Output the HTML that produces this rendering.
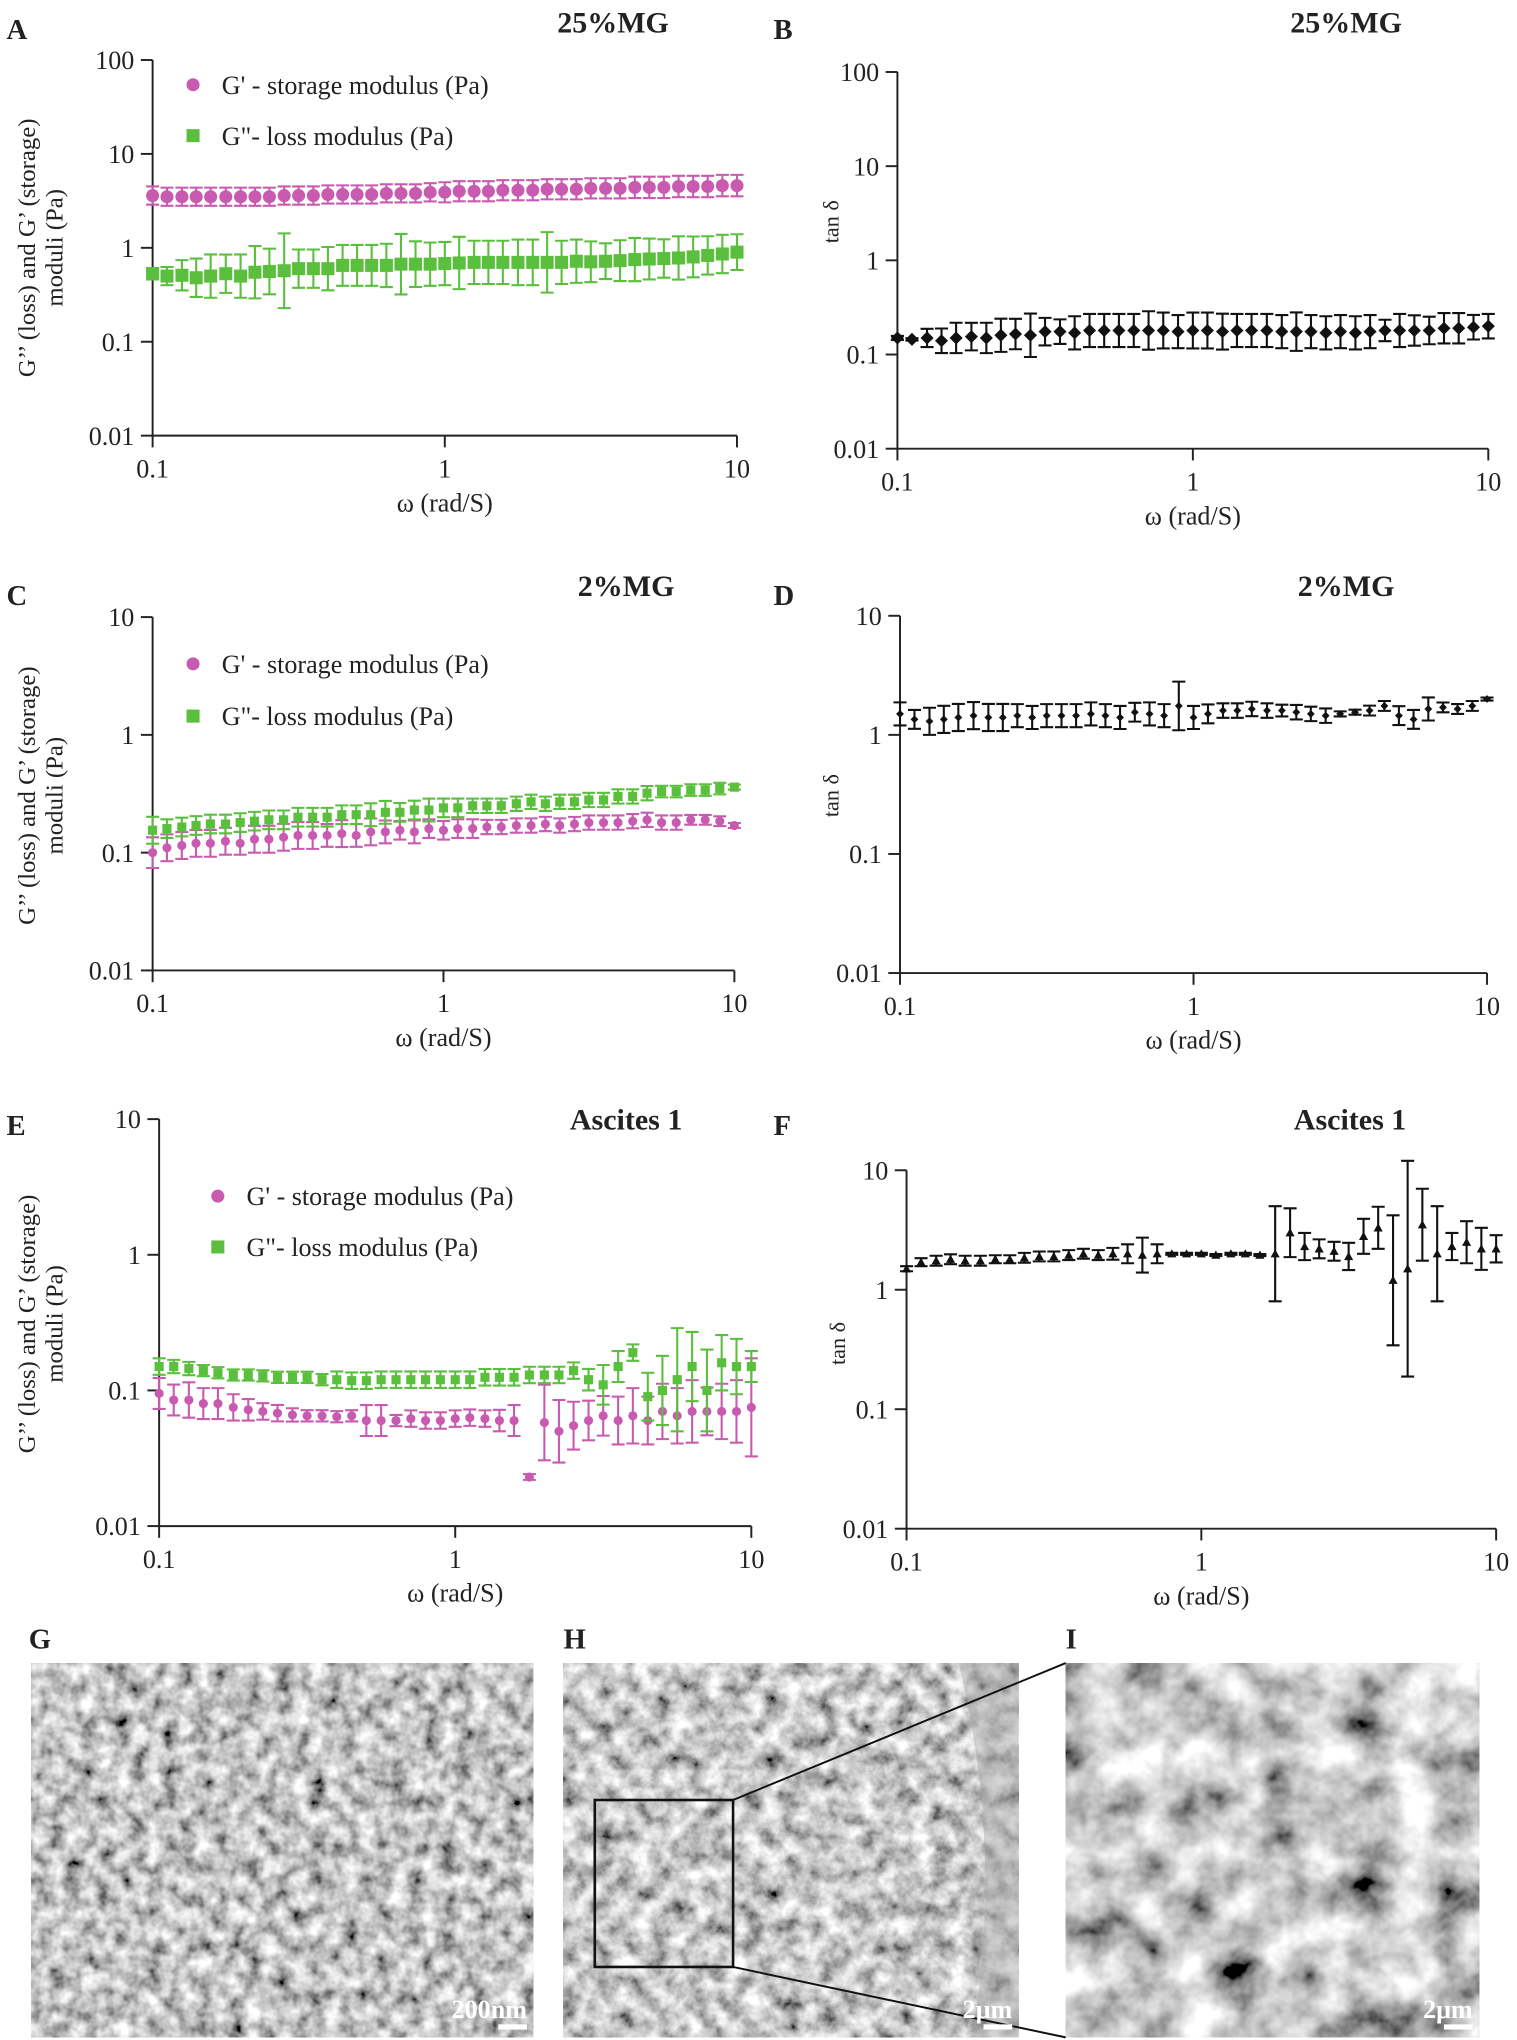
<!DOCTYPE html>
<html><head><meta charset="utf-8"><style>
html,body{margin:0;padding:0;background:#fff}
svg{display:block}
text{font-family:"Liberation Serif",serif;fill:#222}
</style></head><body>
<svg id="fig" width="1517" height="2040" viewBox="0 0 1163 1564" preserveAspectRatio="none" xmlns="http://www.w3.org/2000/svg">
<defs>
<filter id="semG" x="0" y="0" width="1" height="1"><feTurbulence type="fractalNoise" baseFrequency="0.08" numOctaves="3" seed="3"/><feColorMatrix type="matrix" values="1.5 0 0 0 -0.2  1.5 0 0 0 -0.2  1.5 0 0 0 -0.2  0 0 0 0 1"/></filter>
<filter id="semH" x="0" y="0" width="1" height="1"><feTurbulence type="fractalNoise" baseFrequency="0.07" numOctaves="4" seed="7"/><feColorMatrix type="matrix" values="1.5 0 0 0 -0.17  1.5 0 0 0 -0.17  1.5 0 0 0 -0.17  0 0 0 0 1"/></filter>
<filter id="semI" x="0" y="0" width="1" height="1"><feTurbulence type="fractalNoise" baseFrequency="0.03" numOctaves="4" seed="11"/><feColorMatrix type="matrix" values="1.6 0 0 0 -0.22  1.6 0 0 0 -0.22  1.6 0 0 0 -0.22  0 0 0 0 1"/></filter>
</defs>
</svg>
<script>
// ---- data ----
const omega = [0.1,0.112,0.126,0.141,0.158,0.178,0.2,0.224,0.251,0.282,0.316,0.355,0.398,0.447,0.501,0.562,0.631,0.708,0.794,0.891,1,1.12,1.26,1.41,1.58,1.78,2,2.24,2.51,2.82,3.16,3.55,3.98,4.47,5.01,5.62,6.31,7.08,7.94,8.91,10];
const xTicks = ["0.1","1","10"];
const A_storage = [3.6,3.5,3.5,3.5,3.5,3.5,3.5,3.5,3.5,3.6,3.6,3.6,3.7,3.7,3.7,3.7,3.8,3.8,3.8,3.9,3.9,4.0,4.0,4.0,4.1,4.1,4.1,4.2,4.2,4.2,4.3,4.3,4.3,4.4,4.4,4.4,4.5,4.5,4.5,4.6,4.6];
const A_storageErr = [1.25,1.25,1.25,1.25,1.25,1.25,1.25,1.25,1.25,1.25,1.25,1.25,1.25,1.25,1.25,1.25,1.25,1.25,1.25,1.25,1.28,1.28,1.28,1.28,1.28,1.28,1.28,1.28,1.28,1.28,1.28,1.28,1.28,1.3,1.3,1.3,1.3,1.3,1.3,1.3,1.3];
const A_loss = [0.53,0.5,0.51,0.48,0.5,0.53,0.5,0.55,0.56,0.57,0.6,0.6,0.6,0.65,0.65,0.65,0.65,0.67,0.67,0.67,0.68,0.69,0.7,0.7,0.7,0.7,0.7,0.7,0.7,0.72,0.71,0.72,0.73,0.75,0.76,0.77,0.78,0.8,0.83,0.86,0.9];
const A_lossErr = [1.15,1.25,1.45,1.6,1.7,1.6,1.7,1.9,1.75,2.5,1.6,1.6,1.7,1.65,1.65,1.65,1.7,2.1,1.75,1.7,1.7,1.9,1.7,1.7,1.7,1.75,1.75,2.1,1.7,1.7,1.65,1.55,1.65,1.7,1.65,1.6,1.7,1.65,1.6,1.6,1.55];
const B_tan = [0.15,0.145,0.15,0.14,0.15,0.155,0.15,0.16,0.165,0.16,0.175,0.175,0.17,0.18,0.18,0.18,0.18,0.18,0.18,0.175,0.18,0.18,0.175,0.18,0.18,0.18,0.175,0.175,0.175,0.17,0.175,0.17,0.175,0.18,0.18,0.18,0.18,0.19,0.19,0.195,0.2];
const B_tanErr = [1.05,1.03,1.25,1.35,1.45,1.4,1.45,1.5,1.45,1.7,1.4,1.35,1.5,1.5,1.5,1.5,1.5,1.6,1.55,1.5,1.55,1.55,1.55,1.5,1.5,1.5,1.5,1.6,1.5,1.5,1.5,1.5,1.5,1.3,1.5,1.45,1.4,1.45,1.45,1.35,1.35];
const C_storage = [0.1,0.11,0.115,0.12,0.12,0.125,0.12,0.13,0.13,0.135,0.14,0.14,0.14,0.145,0.14,0.15,0.15,0.155,0.15,0.16,0.155,0.16,0.16,0.165,0.165,0.17,0.17,0.175,0.17,0.175,0.18,0.18,0.18,0.185,0.19,0.18,0.18,0.19,0.19,0.185,0.17];
const C_storageErr = [1.35,1.3,1.3,1.3,1.3,1.3,1.25,1.3,1.3,1.3,1.3,1.3,1.25,1.3,1.25,1.3,1.25,1.2,1.25,1.2,1.2,1.2,1.2,1.15,1.15,1.15,1.15,1.15,1.15,1.15,1.15,1.15,1.15,1.15,1.15,1.15,1.15,1.1,1.1,1.1,1.05];
const C_loss = [0.155,0.16,0.165,0.17,0.175,0.175,0.18,0.185,0.19,0.19,0.2,0.2,0.2,0.21,0.21,0.21,0.22,0.22,0.23,0.23,0.24,0.24,0.25,0.25,0.25,0.26,0.27,0.26,0.27,0.27,0.28,0.28,0.3,0.3,0.32,0.33,0.33,0.34,0.34,0.35,0.36];
const C_lossErr = [1.3,1.2,1.2,1.2,1.2,1.2,1.2,1.2,1.2,1.2,1.2,1.2,1.2,1.2,1.2,1.25,1.25,1.2,1.2,1.25,1.2,1.2,1.15,1.15,1.15,1.15,1.15,1.15,1.15,1.15,1.15,1.15,1.15,1.15,1.15,1.12,1.12,1.12,1.12,1.12,1.05];
const D_tan = [1.5,1.35,1.3,1.35,1.4,1.45,1.4,1.4,1.45,1.4,1.45,1.45,1.45,1.5,1.45,1.4,1.55,1.5,1.45,1.75,1.4,1.5,1.6,1.6,1.65,1.6,1.6,1.55,1.5,1.45,1.5,1.55,1.6,1.75,1.45,1.35,1.65,1.7,1.65,1.75,2.0];
const D_tanErr = [1.25,1.2,1.3,1.3,1.3,1.3,1.3,1.3,1.25,1.25,1.25,1.25,1.25,1.25,1.25,1.25,1.2,1.25,1.25,1.6,1.25,1.2,1.15,1.15,1.15,1.15,1.12,1.15,1.15,1.15,1.05,1.05,1.1,1.1,1.2,1.2,1.25,1.1,1.1,1.1,1.03];
const E_storage = [0.095,0.085,0.085,0.08,0.08,0.075,0.072,0.07,0.068,0.066,0.065,0.065,0.064,0.065,0.06,0.06,0.06,0.062,0.06,0.06,0.062,0.063,0.062,0.06,0.06,0.023,0.058,0.05,0.055,0.06,0.065,0.06,0.065,0.06,0.07,0.065,0.07,0.07,0.07,0.07,0.075];
const E_storageErr = [1.3,1.3,1.35,1.3,1.3,1.25,1.2,1.15,1.15,1.12,1.1,1.1,1.1,1.1,1.3,1.3,1.1,1.15,1.15,1.15,1.15,1.15,1.15,1.2,1.3,1.05,1.9,1.7,1.5,1.4,1.4,1.5,1.6,1.5,1.6,1.6,1.7,1.5,1.6,1.7,2.3];
const E_loss = [0.15,0.15,0.145,0.14,0.135,0.13,0.13,0.128,0.125,0.125,0.125,0.12,0.12,0.118,0.118,0.12,0.12,0.12,0.12,0.12,0.12,0.12,0.125,0.125,0.125,0.13,0.13,0.13,0.14,0.12,0.11,0.15,0.19,0.09,0.10,0.12,0.15,0.1,0.16,0.15,0.15];
const E_lossErr = [1.15,1.12,1.12,1.1,1.1,1.1,1.1,1.1,1.1,1.1,1.1,1.1,1.15,1.15,1.15,1.15,1.15,1.15,1.15,1.15,1.15,1.15,1.15,1.15,1.15,1.15,1.15,1.15,1.15,1.2,1.4,1.3,1.15,1.5,1.8,2.4,1.8,2.0,1.6,1.6,1.3];
const F_tan = [1.5,1.7,1.75,1.8,1.75,1.75,1.8,1.8,1.85,1.9,1.9,1.95,2.0,1.95,2.0,2.0,1.95,2.0,2.0,2.0,2.0,1.95,2.0,2.0,1.95,2.0,3.0,2.3,2.2,2.1,1.9,2.8,3.3,1.2,1.5,3.5,2.0,2.3,2.5,2.2,2.2];
const F_tanErr = [1.05,1.08,1.1,1.1,1.1,1.1,1.08,1.08,1.1,1.1,1.1,1.1,1.1,1.1,1.12,1.2,1.4,1.2,1.02,1.02,1.02,1.02,1.02,1.02,1.02,2.5,1.6,1.3,1.2,1.2,1.3,1.4,1.5,3.5,8,2,2.5,1.3,1.5,1.5,1.3];

// ---- drawing ----
const NS = "http://www.w3.org/2000/svg";
const svg = document.getElementById('fig');
function el(tag, attrs, parent, txt){
  const e = document.createElementNS(NS, tag);
  for (const k in attrs) e.setAttribute(k, attrs[k]);
  if (txt !== undefined) e.textContent = txt;
  (parent || svg).appendChild(e);
  return e;
}
function makeAxes(cfg){
  const g = el('g', {});
  
  
  const xs = v => cfg.x0 + (Math.log10(v) + 1) * cfg.dx;
  const ys = v => cfg.yBot - (Math.log10(v) - cfg.yMinExp) * cfg.dy;
  const top = cfg.yBot - (cfg.yTicks.length - 1) * cfg.dy;
  const ax = el('path', {d:`M${cfg.x0} ${top}V${cfg.yBot}H${cfg.x0 + 2*cfg.dx}`, stroke:'#222', 'stroke-width':1.5, fill:'none'}, g);
  
  
  cfg.yTicks.forEach((t, i) => {
    const y = cfg.yBot - i * cfg.dy;
    el('line', {x1:cfg.x0-9, x2:cfg.x0, y1:y, y2:y, stroke:'#222', 'stroke-width':1.5}, g);
    const tl = el('text', {x:cfg.x0-14, y:y+7, 'text-anchor':'end', 'font-size':20}, g, t);
    
    
  });
  xTicks.forEach((t, i) => {
    const x = cfg.x0 + i * cfg.dx;
    el('line', {x1:x, x2:x, y1:cfg.yBot, y2:cfg.yBot+9, stroke:'#222', 'stroke-width':1.5}, g);
    const tl = el('text', {x:x, y:cfg.yBot+32, 'text-anchor':'middle', 'font-size':20}, g, t);
    
    
  });
  const xl = el('text', {x:cfg.x0+cfg.dx, y:cfg.yBot+58, 'text-anchor':'middle', 'font-size':20}, g, 'ω (rad/S)');
  
  
  return {g, xs, ys};
}
function series(ax, vals, errs, color, shape, size, name){
  const g = el('g', {}, ax.g);
  
  
  vals.forEach((v, i) => {
    const x = ax.xs(omega[i]);
    const y = ax.ys(v), yh = ax.ys(v*errs[i]), yl = ax.ys(v/errs[i]);
    el('path', {d:`M${x} ${yh}V${yl}M${x-5} ${yh}H${x+5}M${x-5} ${yl}H${x+5}`, stroke:color, 'stroke-width':1.6, fill:'none'}, g);
    let m;
    if (shape === 'circle') m = el('circle', {cx:x, cy:y, r:size, fill:color}, g);
    else if (shape === 'square') m = el('rect', {x:x-size, y:y-size, width:2*size, height:2*size, fill:color}, g);
    else if (shape === 'diamond') m = el('path', {d:`M${x} ${y-size}L${x+size} ${y}L${x} ${y+size}L${x-size} ${y}Z`, fill:color}, g);
    else m = el('path', {d:`M${x} ${y-size}L${x+size} ${y+size*0.8}L${x-size} ${y+size*0.8}Z`, fill:color}, g);
    
    
  });
}
function label(x, y, txt, size, bold, name, anchor){
  const t = el('text', {x:x, y:y, 'font-size':size, 'font-weight':bold?'bold':'normal', 'text-anchor':anchor||'start'}, svg, txt);
  
  
  return t;
}
function ylab2(x, y){
  const t = el('text', {transform:`translate(${x},${y}) rotate(-90)`, 'text-anchor':'middle', 'font-size':19}, svg);
  
  
  el('tspan', {x:0, y:0}, t, 'G’’ (loss) and G’ (storage)');
  el('tspan', {x:0, y:21}, t, 'moduli (Pa)');
}
function ylabTan(x, y){
  const t = el('text', {transform:`translate(${x},${y}) rotate(-90)`, 'text-anchor':'middle', 'font-size':17}, svg, 'tan δ');
  
  
}
function legend(x, y1, y2, r, fs){
  const c = el('circle', {cx:x, cy:y1, r:r, fill:'#c85bb0'});
  
  
  label(x+22, y1+7, "G' - storage modulus (Pa)", fs, false, 'legend-storage-label');
  const s = el('rect', {x:x-r, y:y2-r, width:2*r, height:2*r, fill:'#5abf3c'});
  
  
  label(x+22, y2+7, 'G"- loss modulus (Pa)', fs, false, 'legend-loss-label');
}
const PINK = '#c85bb0', GREEN = '#5abf3c', BLACK = '#111';

// Panel A
label(5, 30, 'A', 22, true, 'panel-label-a');
label(470, 25, '25%MG', 23, true, 'panel-a-title', 'middle');
const aA = makeAxes({name:'chart-a', x0:117, dx:224, yBot:334, dy:72, yMinExp:-2, yTicks:['0.01','0.1','1','10','100']});
series(aA, A_storage, A_storageErr, PINK, 'circle', 5, 'series-a-storage');
series(aA, A_loss, A_lossErr, GREEN, 'square', 5, 'series-a-loss');
legend(148, 65, 104, 5, 20); ylab2(27, 190);

// Panel B
label(593, 30, 'B', 22, true, 'panel-label-b');
label(1032, 25, '25%MG', 23, true, 'panel-b-title', 'middle');
const aB = makeAxes({name:'chart-b', x0:688, dx:226.5, yBot:344, dy:72.2, yMinExp:-2, yTicks:['0.01','0.1','1','10','100']});
series(aB, B_tan, B_tanErr, BLACK, 'diamond', 5, 'series-b-tan-delta');
ylabTan(643, 170);

// Panel C
label(5, 464, 'C', 22, true, 'panel-label-c');
label(480, 457, '2%MG', 23, true, 'panel-c-title', 'middle');
const aC = makeAxes({name:'chart-c', x0:117, dx:223, yBot:744, dy:90.3, yMinExp:-2, yTicks:['0.01','0.1','1','10']});
series(aC, C_storage, C_storageErr, PINK, 'circle', 3.5, 'series-c-storage');
series(aC, C_loss, C_lossErr, GREEN, 'square', 3.5, 'series-c-loss');
legend(148, 509, 549, 5, 20); ylab2(27, 610);

// Panel D
label(593, 464, 'D', 22, true, 'panel-label-d');
label(1032, 457, '2%MG', 23, true, 'panel-d-title', 'middle');
const aD = makeAxes({name:'chart-d', x0:690, dx:225, yBot:746, dy:91.3, yMinExp:-2, yTicks:['0.01','0.1','1','10']});
series(aD, D_tan, D_tanErr, BLACK, 'diamond', 3, 'series-d-tan-delta');
ylabTan(643, 610);

// Panel E
label(5, 870, 'E', 22, true, 'panel-label-e');
label(480, 866, 'Ascites 1', 23, true, 'panel-e-title', 'middle');
const aE = makeAxes({name:'chart-e', x0:122, dx:227, yBot:1170, dy:104, yMinExp:-2, yTicks:['0.01','0.1','1','10']});
series(aE, E_storage, E_storageErr, PINK, 'circle', 3.5, 'series-e-storage');
series(aE, E_loss, E_lossErr, GREEN, 'square', 3.5, 'series-e-loss');
legend(167, 917, 956, 5, 20); ylab2(27, 1015);

// Panel F
label(593, 870, 'F', 22, true, 'panel-label-f');
label(1035, 866, 'Ascites 1', 23, true, 'panel-f-title', 'middle');
const aF = makeAxes({name:'chart-f', x0:695, dx:226, yBot:1172, dy:91.6, yMinExp:-2, yTicks:['0.01','0.1','1','10']});
series(aF, F_tan, F_tanErr, BLACK, 'triangle', 3.5, 'series-f-tan-delta');
ylabTan(648, 1030);

// SEM images
function sem(x, y, w, h, filt, name){
  const g = el('g', {});
  
  
  el('rect', {x:x, y:y, width:w, height:h, fill:'#888', filter:`url(#${filt})`}, g);
  return g;
}
label(22, 1264, 'G', 22, true, 'panel-label-g');
label(432, 1264, 'H', 22, true, 'panel-label-h');
label(817, 1264, 'I', 22, true, 'panel-label-i');
sem(24, 1275, 385, 287, 'semG', 'sem-image-g');
sem(432, 1275, 349, 287, 'semH', 'sem-image-h');
el('path', {d:'M735 1275H781V1562H745Q770 1420 735 1275Z', fill:'#aaa', opacity:0.5});
sem(817, 1275, 317, 287, 'semI', 'sem-image-i');
const box = el('rect', {x:456, y:1380, width:106, height:128, fill:'none', stroke:'#111', 'stroke-width':2});


el('path', {d:'M562 1380L817 1275M562 1508L817 1562', stroke:'#111', 'stroke-width':1.5, fill:'none'});
[['200nm',404,'scale-bar-g'],['2μm',776,'scale-bar-h'],['2μm',1129,'scale-bar-i']].forEach(s => {
  const t = label(s[1], 1547, s[0], 20, true, s[2], 'end');
  t.style.fill = '#fff';
  el('rect', {x:s[1]-22, y:1552, width:22, height:4, fill:'#fff'});
});
</script>
</body></html>
